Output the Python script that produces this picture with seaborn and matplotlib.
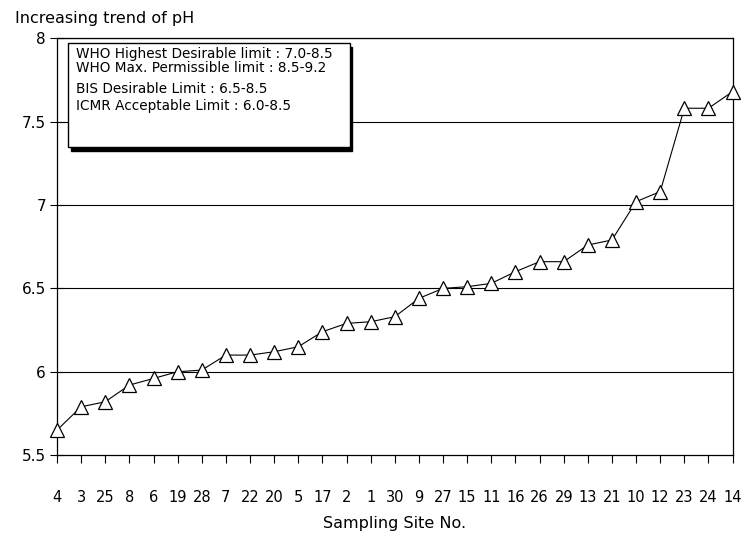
import matplotlib
matplotlib.use("Agg")
import matplotlib.pyplot as plt
import seaborn as sns
import pandas as pd
from matplotlib.patches import Rectangle

sites = ["4", "3", "25", "8", "6", "19", "28", "7", "22", "20", "5", "17", "2", "1", "30",
         "9", "27", "15", "11", "16", "26", "29", "13", "21", "10", "12", "23", "24", "14"]
ph = [5.65, 5.79, 5.82, 5.92, 5.96, 6.00, 6.01, 6.10, 6.10, 6.12, 6.15, 6.24, 6.29, 6.30, 6.33,
      6.44, 6.50, 6.51, 6.53, 6.60, 6.66, 6.66, 6.76, 6.79, 7.02, 7.08, 7.58, 7.58, 7.68]
yticks = [5.5, 6, 6.5, 7, 7.5, 8]
ytick_labels = ["5.5", "6", "6.5", "7", "7.5", "8"]
legend_lines = ["WHO Highest Desirable limit : 7.0-8.5",
                "WHO Max. Permissible limit : 8.5-9.2",
                "BIS Desirable Limit : 6.5-8.5",
                "ICMR Acceptable Limit : 6.0-8.5"]

sns.set_theme(style="white")
plt.rcParams['font.family'] = ['DejaVu Sans']
plt.rcParams['text.color'] = 'black'
plt.rcParams['axes.labelcolor'] = 'black'
plt.rcParams['xtick.color'] = 'black'
plt.rcParams['ytick.color'] = 'black'

df = pd.DataFrame({"pos": range(len(sites)), "ph": ph})

fig = plt.figure(figsize=(7.54, 5.38), dpi=100)
ax = fig.add_axes([0.0756, 0.154, 0.896, 0.775])

sns.lineplot(data=df, x="pos", y="ph", ax=ax, color="black", linewidth=0.8,
             marker="^", markersize=10, markerfacecolor="white",
             markeredgecolor="black", markeredgewidth=0.9, clip_on=False, zorder=5)

ax.set_xlim(0, len(sites) - 1)
ax.set_ylim(5.5, 8)
ax.set_xticks(range(len(sites)))
ax.set_xticklabels(sites, fontsize=10.5)
ax.set_yticks(yticks)
ax.set_yticklabels(ytick_labels, fontsize=11)
ax.tick_params(axis="x", direction="out", length=6, width=0.8, pad=19, bottom=True)
ax.tick_params(axis="y", direction="inout", length=10, width=0.8, pad=3, left=True)
for y in yticks[1:]:
    ax.axhline(y, color="black", linewidth=0.8, zorder=1)
for s in ax.spines.values():
    s.set_color("black")
    s.set_linewidth(0.9)
ax.set_xlabel("Sampling Site No.", fontsize=11.5, labelpad=8)
ax.set_ylabel("")

fig.text(0.02, 0.965, "Increasing trend of pH", fontsize=11.5, ha="left", va="center")

# legend box with shadow
x0, y0, w, h = 0.016, 0.738, 0.417, 0.250
ax.add_patch(Rectangle((x0 + 0.004, y0 - 0.008), w, h, transform=ax.transAxes,
                       facecolor="black", edgecolor="black", zorder=6))
ax.add_patch(Rectangle((x0, y0), w, h, transform=ax.transAxes,
                       facecolor="white", edgecolor="black", linewidth=1.0, zorder=7))
ys = [0.962, 0.928, 0.878, 0.838]
for t, yy in zip(legend_lines, ys):
    ax.text(x0 + 0.012, yy, t, transform=ax.transAxes, fontsize=9.8, ha="left",
            va="center", zorder=8)

fig.savefig("out.png", dpi=100)
